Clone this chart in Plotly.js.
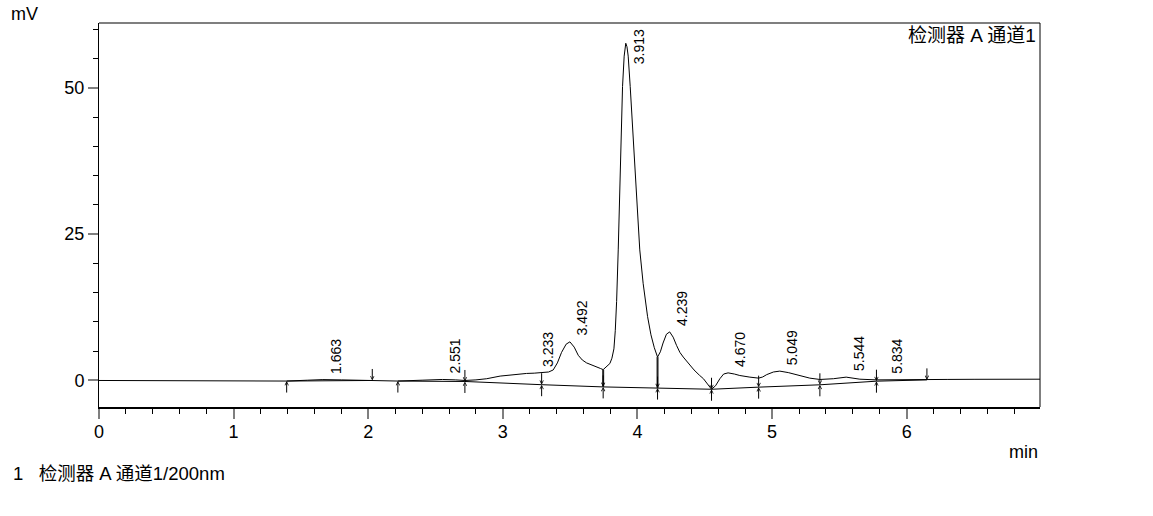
<!DOCTYPE html>
<html>
<head>
<meta charset="utf-8">
<script src="https://cdn.plot.ly/plotly-3.0.1.min.js"></script>
<style>
  html, body { margin: 0; padding: 0; background: #fff; }
  #chart { width: 1153px; height: 516px; }
</style>
</head>
<body>
<div id="chart"></div>
<script>
// chromatogram, detector A channel 1 (200 nm)
const times = [0.00, 0.30, 0.60, 0.90, 1.20, 1.394, 1.55, 1.663, 1.80, 2.03, 2.22, 2.40, 2.551, 2.65, 2.718,
  2.80, 2.88, 2.98, 3.077, 3.176, 3.233, 3.288, 3.34, 3.374, 3.405, 3.436, 3.47, 3.498, 3.53, 3.56, 3.59,
  3.622, 3.66, 3.696, 3.725, 3.745, 3.77, 3.795, 3.81, 3.825, 3.835, 3.845, 3.857, 3.866, 3.874, 3.889, 3.901,
  3.913, 3.922, 3.931, 3.946, 3.968, 3.986, 4.00, 4.017, 4.042, 4.075, 4.10, 4.125, 4.149, 4.17,
  4.19, 4.215, 4.239, 4.265, 4.29, 4.315, 4.34, 4.38, 4.42, 4.46, 4.49, 4.52, 4.55, 4.58, 4.612, 4.64,
  4.673, 4.72, 4.76, 4.835, 4.90, 4.93, 4.96, 5.01, 5.057, 5.12, 5.18, 5.23, 5.28, 5.355, 5.455, 5.55,
  5.60, 5.652, 5.775, 5.834, 5.95, 6.15, 6.30, 6.50, 6.70, 6.99];
const signal = [0.00, 0.00, -0.02, 0.00, -0.05, -0.10, 0.05, 0.15, 0.10, 0.00, -0.10, 0.05, 0.17, 0.10, 0.00,
  0.10, 0.30, 0.75, 1.00, 1.20, 1.25, 1.30, 1.45, 1.80, 3.0, 4.8, 6.2, 6.6, 5.7, 4.3, 3.5,
  3.0, 2.6, 2.3, 2.05, 1.85, 2.3, 2.9, 3.8, 5.4, 8.5, 13.5, 22.3, 31.0, 40.0, 50.2, 55.4,
  57.6, 57.0, 55.4, 50.2, 41.5, 33.7, 28.0, 22.3, 16.6, 10.9, 7.8, 5.6, 4.0, 4.9,
  6.4, 7.9, 8.3, 7.4, 6.0, 4.8, 4.0, 2.9, 1.8, 0.9, 0.3, -0.6, -1.5, -0.9, 0.3, 1.1,
  1.3, 1.1, 0.85, 0.57, 0.40, 0.60, 1.00, 1.45, 1.60, 1.35, 1.00, 0.65, 0.40, 0.17, 0.30, 0.57,
  0.45, 0.22, 0.10, 0.12, 0.10, 0.10, 0.18, 0.20, 0.18, 0.22];

// integration baseline (null = break)
const baseT = [1.394, 2.03, null, 2.22, 2.718, 3.288, 3.745, 4.149, 4.55, 4.90, 5.355, 5.775, 6.15];
const baseV = [-0.10, 0.00, null, -0.10, -0.17, -0.72, -1.10, -1.30, -1.50, -1.14, -0.74, -0.12, 0.10];

// vertical drop lines between unresolved peaks
const dropT = [3.745, 4.149];
const dropTop = [1.85, 4.0];
const dropBottom = [-1.10, -1.30];

// peak start / end / split marks on the baseline
const startT = [1.394, 2.22];
const startV = [-0.10, -0.10];
const endT = [2.03, 6.15];
const endV = [0.00, 0.10];
const splitT = [2.718, 3.288, 3.745, 4.149, 4.55, 4.90, 5.355, 5.775];
const splitV = [-0.17, -0.72, -1.10, -1.30, -1.50, -1.14, -0.74, -0.12];

// retention time labels
const peakLabels = ['1.663', '2.551', '3.233', '3.492', '3.913', '4.239', '4.670', '5.049', '5.544', '5.834'];
const peakT = [1.663, 2.551, 3.233, 3.492, 3.913, 4.239, 4.670, 5.049, 5.544, 5.834];
const peakV = [0.15, 0.17, 1.25, 6.6, 57.6, 8.3, 1.3, 1.6, 0.57, 0.12];

const xTicks = [0, 1, 2, 3, 4, 5, 6];
const yTicks = [0, 25, 50];

const FONT = '"Liberation Sans", Arial, "Noto Sans CJK SC", sans-serif';
const X_RANGE = [0, 6.99];
const Y_RANGE = [-4.53, 61.06];

const traces = [
  { x: times, y: signal, mode: 'lines', line: { color: '#000', width: 1 } },
  { x: baseT, y: baseV, mode: 'lines', connectgaps: false, line: { color: '#000', width: 1 } },
];
dropT.forEach((t, i) => traces.push({
  x: [t, t], y: [dropTop[i], dropBottom[i]], mode: 'lines', line: { color: '#222', width: 2 },
}));

const annotations = [];

// arrows pointing to the baseline
function arrow(x, y, fromBelow) {
  annotations.push({
    x, y, xref: 'x', yref: 'y', text: '', showarrow: true,
    ax: 0, ay: fromBelow ? 13 : -13,
    arrowhead: 5, arrowsize: 0.7, arrowwidth: 1, arrowcolor: '#000',
  });
}
startT.forEach((t, i) => arrow(t, startV[i], true));
endT.forEach((t, i) => arrow(t, endV[i], false));
splitT.forEach((t, i) => { arrow(t, splitV[i], true); arrow(t, splitV[i], false); });

// peak labels, rotated; the one that would leave the plot hangs from the top
peakT.forEach((t, i) => {
  const tooHigh = peakV[i] > Y_RANGE[1] - 8;
  annotations.push({
    x: t, y: tooHigh ? 1 : peakV[i], xref: 'x', yref: tooHigh ? 'paper' : 'y',
    text: peakLabels[i], showarrow: false, textangle: -90,
    xanchor: 'center', yanchor: tooHigh ? 'top' : 'bottom',
    xshift: 13, yshift: tooHigh ? -4 : 4,
    font: { family: FONT, size: 14, color: '#000' },
  });
});

const W = 941; // plot width in px
annotations.push(
  { xref: 'paper', yref: 'paper', x: 1, y: 1, xanchor: 'right', yanchor: 'top', xshift: -2, yshift: 0,
    text: '检测器 A 通道1', showarrow: false, font: { family: FONT, size: 19, color: '#000' } },
  { xref: 'paper', yref: 'paper', x: -90 / W, y: 1, xanchor: 'left', yanchor: 'middle', yshift: 9,
    text: 'mV', showarrow: false, font: { family: FONT, size: 18, color: '#000' } },
  { xref: 'paper', yref: 'paper', x: 1, y: 0, xanchor: 'right', yanchor: 'middle', yshift: -45,
    text: 'min', showarrow: false, font: { family: FONT, size: 18, color: '#000' } },
  { xref: 'paper', yref: 'paper', x: -88 / W, y: 0, xanchor: 'left', yanchor: 'middle', yshift: -66,
    text: '1\u00a0\u00a0\u00a0检测器 A 通道1/200nm', showarrow: false,
    font: { family: FONT, size: 18.5, color: '#000' } },
);

const layout = {
  width: 1153, height: 516,
  margin: { l: 99, r: 113, t: 23, b: 109, pad: 0 },
  paper_bgcolor: '#fff', plot_bgcolor: '#fff',
  showlegend: false, hovermode: false,
  font: { family: FONT, size: 18, color: '#000' },
  xaxis: {
    range: X_RANGE, tickvals: xTicks, ticktext: xTicks.map(String),
    ticks: 'outside', ticklen: 10, tickwidth: 2, tickcolor: '#7f7f7f', ticklabelstandoff: -3,
    minor: { dtick: 0.2, tick0: 0, ticks: 'outside', ticklen: 5, tickwidth: 1, tickcolor: '#000', showgrid: false },
    showline: true, linecolor: '#000', linewidth: 2,
    showgrid: false, zeroline: false, tickfont: { size: 18 },
  },
  yaxis: {
    range: Y_RANGE, tickvals: yTicks, ticktext: yTicks.map(String),
    ticks: 'outside', ticklen: 10, tickwidth: 2, tickcolor: '#7f7f7f',
    minor: { dtick: 5, tick0: 0, ticks: 'outside', ticklen: 5, tickwidth: 1, tickcolor: '#000', showgrid: false },
    showline: true, linecolor: '#000', linewidth: 1,
    showgrid: false, zeroline: false, tickfont: { size: 18 },
  },
  shapes: [
    { type: 'line', xref: 'paper', yref: 'paper', x0: 0, x1: 1, y0: 1, y1: 1, line: { color: '#7f7f7f', width: 2 } },
    { type: 'line', xref: 'paper', yref: 'paper', x0: 1, x1: 1, y0: 0, y1: 1, line: { color: '#000', width: 1 } },
  ],
  annotations,
};

Plotly.newPlot('chart', traces, layout, { displayModeBar: false, staticPlot: true });
</script>
</body>
</html>
